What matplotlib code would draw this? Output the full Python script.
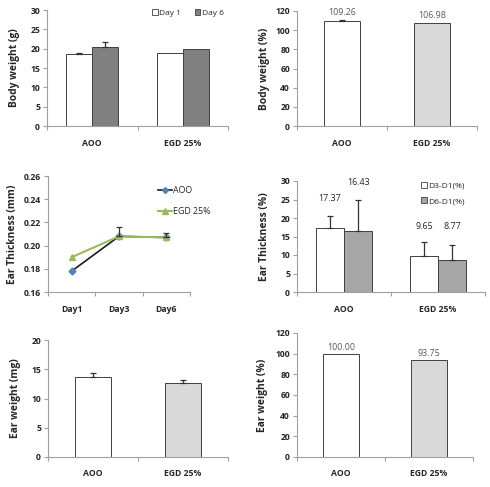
import matplotlib
matplotlib.use("Agg")
import matplotlib.pyplot as plt
import numpy as np
from matplotlib.patches import Patch
from matplotlib.lines import Line2D

plt.rcParams['font.family'] = ['Open Sans', 'DejaVu Sans']

# ---------------- data ----------------
groups = ["AOO", "EGD 25%"]

bw_day1 = [18.7, 18.8]
bw_day1_err = [0.25, 0.0]
bw_day6 = [20.5, 20.0]
bw_day6_err = [1.3, 0.0]

bw_pct = [109.26, 106.98]
bw_pct_err = [1.0, 0.0]

days = ["Day1", "Day3", "Day6"]
et_aoo = [0.178, 0.208, 0.207]
et_aoo_err = [0.0, 0.008, 0.004]
et_egd = [0.190, 0.208, 0.207]

et_d3 = [17.37, 9.65]
et_d3_err = [3.2, 3.9]
et_d6 = [16.43, 8.77]
et_d6_err = [8.4, 4.0]
et_label_y = [24.0, 28.4, 16.5, 16.5]

ew = [13.6, 12.7]
ew_err = [0.7, 0.5]

ew_pct = [100.00, 93.75]

# ---------------- style ----------------
EDGE = "#404040"
AXC = "#a0a0a0"
TXT = "#262626"
LBL = "#595959"
FS = 6.2

fig = plt.figure(figsize=(4.90, 4.87), dpi=100)

def px_axes(l, t, r, b):
    W, H = 490.0, 487.0
    return fig.add_axes([l / W, 1 - b / H, (r - l) / W, (b - t) / H])

def style(ax, ncat, ymin, ymax, ystep, yfmt, xlabels):
    ax.set_xlim(-0.5, ncat - 0.5)
    ax.set_ylim(ymin, ymax)
    yt = np.arange(ymin, ymax + ystep / 2, ystep)
    ax.set_yticks(yt)
    ax.set_yticklabels([yfmt.format(v) for v in yt], fontsize=FS, fontweight='bold', color=TXT)
    ax.set_xticks(range(ncat))
    ax.set_xticklabels(xlabels, fontsize=FS, fontweight='bold', color=TXT)
    ax.set_xticks(np.arange(-0.5, ncat, 1.0), minor=True)
    ax.tick_params(axis='x', which='major', length=0, pad=9)
    ax.tick_params(axis='x', which='minor', length=3, color=AXC, width=0.8)
    ax.tick_params(axis='y', length=3, color=AXC, width=0.8, pad=2)
    for s in ['top', 'right']:
        ax.spines[s].set_visible(False)
    for s in ['left', 'bottom']:
        ax.spines[s].set_color(AXC)
        ax.spines[s].set_linewidth(0.8)

def errbars(ax, xs, ys, errs):
    for xi, yi, e in zip(xs, ys, errs):
        if e > 0:
            ax.errorbar([xi], [yi], yerr=[[0], [e]], fmt='none', ecolor="#333333",
                        elinewidth=0.9, capsize=2, capthick=0.9, zorder=4)

def ylab(ax, text, pad):
    ax.set_ylabel(text, fontsize=7.4, fontweight='bold', color=TXT, labelpad=pad)

x = np.arange(len(groups))

# Panel 1: Body weight (g)
ax1 = px_axes(47, 10, 228, 126)
w = 0.285
ax1.bar(x - w / 2, bw_day1, w, color='white', edgecolor=EDGE, linewidth=0.7)
ax1.bar(x + w / 2, bw_day6, w, color='#808080', edgecolor=EDGE, linewidth=0.7)
errbars(ax1, x - w / 2, bw_day1, bw_day1_err)
errbars(ax1, x + w / 2, bw_day6, bw_day6_err)
style(ax1, 2, 0, 30, 5, "{:.0f}", groups)
ylab(ax1, "Body weight (g)", 7)
ax1.legend(handles=[Patch(facecolor='white', edgecolor=EDGE, linewidth=0.6, label='Day 1'),
                    Patch(facecolor='#808080', edgecolor=EDGE, linewidth=0.6, label='Day 6')],
           loc='upper right', bbox_to_anchor=(1.02, 1.07), ncol=2, frameon=False,
           fontsize=6, handlelength=0.7, handleheight=0.7, handletextpad=0.2,
           columnspacing=1.6, labelcolor=TXT)

# Panel 2: Body weight (%)
ax2 = px_axes(297, 11, 477, 126)
w2 = 0.4
ax2.bar(x, bw_pct, w2, color=['white', '#d9d9d9'], edgecolor=EDGE, linewidth=0.7)
errbars(ax2, x, bw_pct, bw_pct_err)
style(ax2, 2, 0, 120, 20, "{:.0f}", groups)
ylab(ax2, "Body weight (%)", 4)
for xi, v in zip(x, bw_pct):
    ax2.text(xi, v + 4, f"{v:.2f}", ha='center', va='bottom', fontsize=6.4, color=LBL)

# Panel 3: Ear thickness line
ax3 = px_axes(48, 176, 190, 292)
xd = np.arange(len(days))
ax3.plot(xd, et_aoo, color='#1a1a1a', linewidth=1.2, marker='D', markersize=3.5,
         markerfacecolor='#4f81bd', markeredgecolor='#4f81bd', zorder=2)
errbars(ax3, xd, et_aoo, et_aoo_err)
ax3.plot(xd, et_egd, color='#9bbb59', linewidth=1.5, marker='^', markersize=5,
         markerfacecolor='#9bbb59', markeredgecolor='#9bbb59', zorder=3)
style(ax3, 3, 0.16, 0.2601, 0.02, "{:.2f}", days)
ax3.set_ylim(0.16, 0.26)
ylab(ax3, "Ear Thickness (mm)", 4)
ax3.legend(handles=[Line2D([], [], color='#1a1a1a', marker='D', markersize=3,
                           markerfacecolor='#4f81bd', markeredgecolor='#4f81bd', linewidth=1.2, label='AOO'),
                    Line2D([], [], color='#9bbb59', marker='^', markersize=4.5,
                           markerfacecolor='#9bbb59', linewidth=1.5, label='EGD 25%')],
           loc='upper left', bbox_to_anchor=(0.72, 0.98), frameon=False, fontsize=6.4,
           handlelength=1.6, handletextpad=0.1, labelspacing=1.3, labelcolor=TXT)

# Panel 4: Ear thickness (%)
ax4 = px_axes(297, 181, 485, 292)
w4 = 0.3
ax4.bar(x - w4 / 2, et_d3, w4, color='white', edgecolor=EDGE, linewidth=0.7)
ax4.bar(x + w4 / 2, et_d6, w4, color='#a6a6a6', edgecolor=EDGE, linewidth=0.7)
errbars(ax4, x - w4 / 2, et_d3, et_d3_err)
errbars(ax4, x + w4 / 2, et_d6, et_d6_err)
style(ax4, 2, 0, 30, 5, "{:.0f}", groups)
ylab(ax4, "Ear Thickness (%)", 7)
vals4 = [et_d3[0], et_d6[0], et_d3[1], et_d6[1]]
xs4 = [x[0] - w4 / 2, x[0] + w4 / 2, x[1] - w4 / 2, x[1] + w4 / 2]
for xi, yi, v in zip(xs4, et_label_y, vals4):
    ax4.text(xi, yi, f"{v:.2f}", ha='center', va='bottom', fontsize=6.4, color=TXT)
ax4.legend(handles=[Patch(facecolor='white', edgecolor=EDGE, linewidth=0.6, label='D3-D1(%)'),
                    Patch(facecolor='#a6a6a6', edgecolor=EDGE, linewidth=0.6, label='D6-D1(%)')],
           loc='upper left', bbox_to_anchor=(0.62, 1.06), frameon=False, fontsize=6,
           handlelength=0.7, handleheight=0.7, handletextpad=0.2, labelspacing=0.9,
           labelcolor=TXT)

# Panel 5: Ear weight (mg)
ax5 = px_axes(48, 340, 228, 457)
ax5.bar(x, ew, w2, color=['white', '#d9d9d9'], edgecolor=EDGE, linewidth=0.7)
errbars(ax5, x, ew, ew_err)
style(ax5, 2, 0, 20, 5, "{:.0f}", groups)
ylab(ax5, "Ear weight (mg)", 7)

# Panel 6: Ear weight (%)
ax6 = px_axes(297, 333, 473, 457)
ax6.bar(x, ew_pct, w2, color=['white', '#d9d9d9'], edgecolor=EDGE, linewidth=0.7)
style(ax6, 2, 0, 120, 20, "{:.0f}", groups)
ylab(ax6, "Ear weight (%)", 5)
for xi, v in zip(x, ew_pct):
    ax6.text(xi, v + 2, f"{v:.2f}", ha='center', va='bottom', fontsize=6.4, color=LBL)

fig.savefig("out.png", dpi=100, facecolor='white')
